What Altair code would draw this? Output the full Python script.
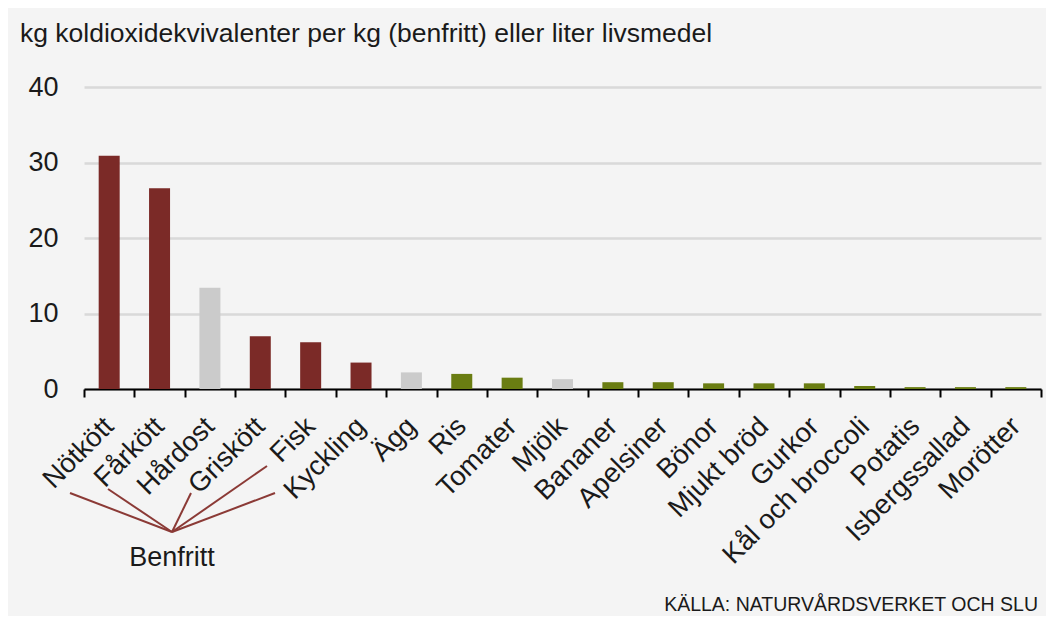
import altair as alt
import pandas as pd

categories = ["Nötkött", "Fårkött", "Hårdost", "Griskött", "Fisk", "Kyckling", "Ägg", "Ris",
              "Tomater", "Mjölk", "Bananer", "Apelsiner", "Bönor", "Mjukt bröd", "Gurkor",
              "Kål och broccoli", "Potatis", "Isbergssallad", "Morötter"]
values = [30.9, 26.6, 13.4, 7.0, 6.2, 3.5, 2.2, 2.0,
          1.5, 1.3, 0.9, 0.9, 0.75, 0.75, 0.75,
          0.4, 0.25, 0.25, 0.25]
groups = ["kött", "kött", "mejeri", "kött", "kött", "kött", "mejeri", "växt",
          "växt", "mejeri", "växt", "växt", "växt", "växt", "växt",
          "växt", "växt", "växt", "växt"]
group_domain = ["kött", "mejeri", "växt"]
group_colors = ["#7b2a27", "#cbcbcb", "#6a7d12"]
y_ticks = [0, 10, 20, 30, 40]

title_text = "kg koldioxidekvivalenter per kg (benfritt) eller liter livsmedel"
source_text = "KÄLLA: NATURVÅRDSVERKET OCH SLU"
annotation_text = "Benfritt"

FONT = "Liberation Sans"
W, H = 957, 302

df = pd.DataFrame({"livsmedel": categories, "varde": values, "grupp": groups})

bars = alt.Chart(df).mark_bar(width=21).encode(
    x=alt.X("livsmedel:N", sort=categories,
            scale=alt.Scale(paddingInner=0, paddingOuter=0),
            axis=alt.Axis(title=None, labelAngle=-45, labelAlign="right", labelBaseline="top",
                          labelFont=FONT, labelFontSize=27.5, labelColor="#1a1a1a",
                          labelPadding=15, labelOffset=-10, labelLimit=0,
                          tickBand="extent", tickSize=8, tickWidth=2,
                          tickColor="#000000", domainColor="#000000", domainWidth=2,
                          grid=False, labelOverlap=False, labelBound=False)),
    y=alt.Y("varde:Q", scale=alt.Scale(domain=[0, 40], nice=False),
            axis=alt.Axis(title=None, values=y_ticks, labelFont=FONT, labelFontSize=27,
                          labelColor="#1a1a1a", labelPadding=26, ticks=False, domain=False,
                          grid=True, gridColor="#d9d9d9", gridWidth=2.5)),
    color=alt.Color("grupp:N", scale=alt.Scale(domain=group_domain, range=group_colors), legend=None),
)

one = pd.DataFrame({"k": [0]})

# leader lines from the "Benfritt" note to the boneless items
hub = (88, 445)
ends = [(-14, 406), (24, 402), (107, 406), (183, 379), (191, 406)]
leaders = [
    alt.Chart(one).mark_rule(color="#8b3a36", strokeWidth=2).encode(
        x=alt.value(hub[0]), y=alt.value(hub[1]), x2=alt.value(ex), y2=alt.value(ey))
    for ex, ey in ends
]

note = alt.Chart(one).mark_text(font=FONT, fontSize=27, color="#1a1a1a", align="center",
                                baseline="middle").encode(
    x=alt.value(88), y=alt.value(471), text=alt.value(annotation_text))

source = alt.Chart(one).mark_text(font=FONT, fontSize=19.5, color="#1a1a1a", align="right",
                                  baseline="alphabetic").encode(
    x=alt.value(954), y=alt.value(524), text=alt.value(source_text))

chart = alt.layer(bars, *leaders, note, source).properties(
    width=W, height=H,
    title=alt.TitleParams(title_text, anchor="start", frame="group", font=FONT, fontSize=26.5,
                          fontWeight="normal", color="#1a1a1a", dx=-64, offset=5,
                          baseline="alphabetic"),
    autosize=alt.AutoSizeParams(type="none"),
    padding={"left": 76, "top": 79, "right": 5, "bottom": 227},
    background="#f4f4f4",
).configure_view(stroke=None)

chart.save("out.html", embed_options={"renderer": "svg", "actions": False})
